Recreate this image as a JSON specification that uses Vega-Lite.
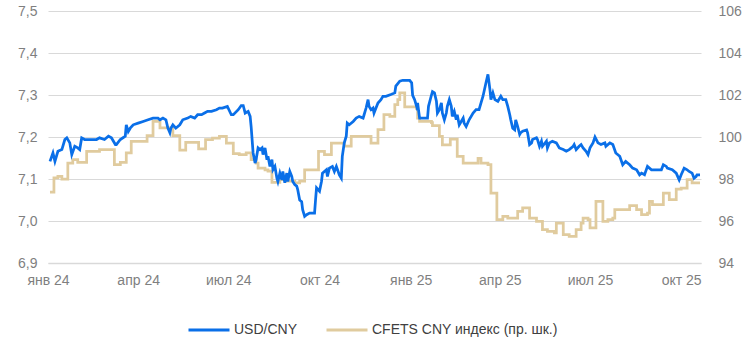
{
  "$schema": "https://vega.github.io/schema/vega-lite/v6.json",
  "width": 653,
  "height": 252,
  "autosize": "none",
  "padding": {"left": 48, "top": 11, "right": 45, "bottom": 92},
  "config": {
    "view": {"stroke": null},
    "font": "Liberation Sans",
    "axis": {"labelFont": "Liberation Sans", "labelFontSize": 14, "labelColor": "#7f7f7f", "ticks": false, "title": null},
    "legend": {"labelFont": "Liberation Sans"}
  },
  "datasets": {
    "usd": [
      {"d":"2024-01-03","v":7.142},{"d":"2024-01-06","v":7.162},{"d":"2024-01-08","v":7.142},{"d":"2024-01-11","v":7.166},{"d":"2024-01-15","v":7.170},{"d":"2024-01-18","v":7.194},{"d":"2024-01-20","v":7.198},{"d":"2024-01-23","v":7.186},{"d":"2024-01-25","v":7.158},{"d":"2024-01-28","v":7.178},{"d":"2024-01-31","v":7.174},
      {"d":"2024-02-02","v":7.170},{"d":"2024-02-04","v":7.198},{"d":"2024-02-07","v":7.194},{"d":"2024-02-12","v":7.194},{"d":"2024-02-19","v":7.194},{"d":"2024-02-22","v":7.198},{"d":"2024-02-27","v":7.194},
      {"d":"2024-03-02","v":7.202},{"d":"2024-03-05","v":7.198},{"d":"2024-03-09","v":7.182},{"d":"2024-03-10","v":7.182},{"d":"2024-03-14","v":7.194},{"d":"2024-03-19","v":7.202},{"d":"2024-03-20","v":7.229},{"d":"2024-03-22","v":7.213},{"d":"2024-03-24","v":7.221},{"d":"2024-03-27","v":7.229},
      {"d":"2024-04-01","v":7.233},{"d":"2024-04-06","v":7.237},{"d":"2024-04-11","v":7.241},{"d":"2024-04-16","v":7.245},{"d":"2024-04-21","v":7.245},{"d":"2024-04-23","v":7.241},{"d":"2024-04-26","v":7.245},{"d":"2024-04-29","v":7.241},
      {"d":"2024-05-01","v":7.221},{"d":"2024-05-03","v":7.210},{"d":"2024-05-04","v":7.221},{"d":"2024-05-06","v":7.229},{"d":"2024-05-09","v":7.221},{"d":"2024-05-13","v":7.229},{"d":"2024-05-16","v":7.241},{"d":"2024-05-21","v":7.245},{"d":"2024-05-24","v":7.249},{"d":"2024-05-28","v":7.245},{"d":"2024-05-31","v":7.253},
      {"d":"2024-06-04","v":7.253},{"d":"2024-06-07","v":7.257},{"d":"2024-06-10","v":7.261},{"d":"2024-06-14","v":7.261},{"d":"2024-06-19","v":7.265},{"d":"2024-06-22","v":7.269},{"d":"2024-06-25","v":7.269},{"d":"2024-06-30","v":7.273},
      {"d":"2024-07-04","v":7.253},{"d":"2024-07-06","v":7.253},{"d":"2024-07-11","v":7.265},{"d":"2024-07-14","v":7.275},{"d":"2024-07-16","v":7.275},{"d":"2024-07-18","v":7.257},{"d":"2024-07-21","v":7.261},{"d":"2024-07-23","v":7.249},{"d":"2024-07-24","v":7.225},{"d":"2024-07-26","v":7.162},{"d":"2024-07-28","v":7.138},{"d":"2024-07-29","v":7.146},{"d":"2024-07-31","v":7.174},
      {"d":"2024-08-02","v":7.170},{"d":"2024-08-04","v":7.174},{"d":"2024-08-05","v":7.158},{"d":"2024-08-07","v":7.174},{"d":"2024-08-09","v":7.146},{"d":"2024-08-10","v":7.154},{"d":"2024-08-12","v":7.130},{"d":"2024-08-14","v":7.146},{"d":"2024-08-15","v":7.122},{"d":"2024-08-17","v":7.130},{"d":"2024-08-19","v":7.102},{"d":"2024-08-20","v":7.094},{"d":"2024-08-22","v":7.114},{"d":"2024-08-24","v":7.098},{"d":"2024-08-25","v":7.118},{"d":"2024-08-27","v":7.091},{"d":"2024-08-29","v":7.114},{"d":"2024-08-30","v":7.094},
      {"d":"2024-09-01","v":7.118},{"d":"2024-09-03","v":7.106},{"d":"2024-09-04","v":7.094},{"d":"2024-09-06","v":7.087},{"d":"2024-09-08","v":7.083},{"d":"2024-09-09","v":7.075},{"d":"2024-09-11","v":7.050},{"d":"2024-09-13","v":7.046},{"d":"2024-09-14","v":7.027},{"d":"2024-09-16","v":7.011},{"d":"2024-09-18","v":7.015},{"d":"2024-09-21","v":7.019},{"d":"2024-09-26","v":7.019},{"d":"2024-09-27","v":7.050},{"d":"2024-09-28","v":7.079},
      {"d":"2024-10-01","v":7.071},{"d":"2024-10-03","v":7.094},{"d":"2024-10-04","v":7.114},{"d":"2024-10-08","v":7.122},{"d":"2024-10-09","v":7.106},{"d":"2024-10-11","v":7.126},{"d":"2024-10-14","v":7.130},{"d":"2024-10-16","v":7.118},{"d":"2024-10-18","v":7.130},{"d":"2024-10-21","v":7.110},{"d":"2024-10-23","v":7.102},{"d":"2024-10-24","v":7.154},{"d":"2024-10-26","v":7.186},{"d":"2024-10-28","v":7.202},{"d":"2024-10-29","v":7.233},{"d":"2024-10-31","v":7.229},
      {"d":"2024-11-04","v":7.237},{"d":"2024-11-07","v":7.245},{"d":"2024-11-10","v":7.249},{"d":"2024-11-14","v":7.245},{"d":"2024-11-15","v":7.253},{"d":"2024-11-17","v":7.269},{"d":"2024-11-19","v":7.289},{"d":"2024-11-20","v":7.273},{"d":"2024-11-22","v":7.265},{"d":"2024-11-24","v":7.269},{"d":"2024-11-25","v":7.257},{"d":"2024-11-27","v":7.269},{"d":"2024-11-29","v":7.281},
      {"d":"2024-12-02","v":7.289},{"d":"2024-12-04","v":7.297},{"d":"2024-12-07","v":7.297},{"d":"2024-12-12","v":7.301},{"d":"2024-12-16","v":7.305},{"d":"2024-12-17","v":7.321},{"d":"2024-12-21","v":7.333},{"d":"2024-12-24","v":7.335},{"d":"2024-12-31","v":7.335},
      {"d":"2025-01-02","v":7.329},{"d":"2025-01-03","v":7.299},{"d":"2025-01-05","v":7.289},{"d":"2025-01-07","v":7.273},{"d":"2025-01-08","v":7.281},{"d":"2025-01-10","v":7.245},{"d":"2025-01-17","v":7.245},{"d":"2025-01-18","v":7.245},{"d":"2025-01-19","v":7.273},{"d":"2025-01-22","v":7.300},{"d":"2025-01-23","v":7.308},{"d":"2025-01-25","v":7.305},{"d":"2025-01-27","v":7.285},{"d":"2025-01-28","v":7.257},{"d":"2025-01-30","v":7.265},
      {"d":"2025-02-01","v":7.281},{"d":"2025-02-02","v":7.257},{"d":"2025-02-04","v":7.241},{"d":"2025-02-06","v":7.257},{"d":"2025-02-07","v":7.273},{"d":"2025-02-09","v":7.289},{"d":"2025-02-11","v":7.273},{"d":"2025-02-12","v":7.249},{"d":"2025-02-14","v":7.261},{"d":"2025-02-16","v":7.241},{"d":"2025-02-17","v":7.253},{"d":"2025-02-19","v":7.229},{"d":"2025-02-21","v":7.237},{"d":"2025-02-23","v":7.245},{"d":"2025-02-24","v":7.233},{"d":"2025-02-26","v":7.225},
      {"d":"2025-03-01","v":7.241},{"d":"2025-03-05","v":7.257},{"d":"2025-03-08","v":7.265},{"d":"2025-03-11","v":7.265},{"d":"2025-03-13","v":7.281},{"d":"2025-03-15","v":7.297},{"d":"2025-03-18","v":7.329},{"d":"2025-03-20","v":7.349},{"d":"2025-03-22","v":7.313},{"d":"2025-03-23","v":7.289},{"d":"2025-03-25","v":7.305},{"d":"2025-03-27","v":7.289},{"d":"2025-03-30","v":7.285},
      {"d":"2025-04-02","v":7.297},{"d":"2025-04-04","v":7.289},{"d":"2025-04-07","v":7.289},{"d":"2025-04-09","v":7.273},{"d":"2025-04-11","v":7.253},{"d":"2025-04-12","v":7.241},{"d":"2025-04-14","v":7.221},{"d":"2025-04-16","v":7.217},{"d":"2025-04-17","v":7.241},{"d":"2025-04-19","v":7.225},{"d":"2025-04-21","v":7.206},{"d":"2025-04-22","v":7.210},{"d":"2025-04-24","v":7.214},{"d":"2025-04-28","v":7.217},{"d":"2025-04-29","v":7.210},
      {"d":"2025-05-01","v":7.182},{"d":"2025-05-03","v":7.186},{"d":"2025-05-04","v":7.194},{"d":"2025-05-08","v":7.198},{"d":"2025-05-09","v":7.194},{"d":"2025-05-11","v":7.178},{"d":"2025-05-13","v":7.190},{"d":"2025-05-14","v":7.178},{"d":"2025-05-18","v":7.190},{"d":"2025-05-19","v":7.174},{"d":"2025-05-21","v":7.186},{"d":"2025-05-24","v":7.190},{"d":"2025-05-28","v":7.186},{"d":"2025-05-31","v":7.174},
      {"d":"2025-06-04","v":7.170},{"d":"2025-06-07","v":7.166},{"d":"2025-06-10","v":7.170},{"d":"2025-06-14","v":7.178},{"d":"2025-06-15","v":7.182},{"d":"2025-06-17","v":7.170},{"d":"2025-06-20","v":7.178},{"d":"2025-06-22","v":7.182},{"d":"2025-06-24","v":7.174},{"d":"2025-06-27","v":7.166},{"d":"2025-06-29","v":7.158},
      {"d":"2025-07-01","v":7.174},{"d":"2025-07-04","v":7.186},{"d":"2025-07-06","v":7.200},{"d":"2025-07-09","v":7.186},{"d":"2025-07-12","v":7.182},{"d":"2025-07-16","v":7.186},{"d":"2025-07-17","v":7.178},{"d":"2025-07-21","v":7.186},{"d":"2025-07-24","v":7.182},{"d":"2025-07-27","v":7.162},{"d":"2025-07-31","v":7.154},
      {"d":"2025-08-03","v":7.134},{"d":"2025-08-06","v":7.142},{"d":"2025-08-10","v":7.134},{"d":"2025-08-13","v":7.126},{"d":"2025-08-17","v":7.122},{"d":"2025-08-20","v":7.110},{"d":"2025-08-22","v":7.114},{"d":"2025-08-25","v":7.110},{"d":"2025-08-28","v":7.130},
      {"d":"2025-09-01","v":7.122},{"d":"2025-09-06","v":7.122},{"d":"2025-09-11","v":7.122},{"d":"2025-09-13","v":7.134},{"d":"2025-09-16","v":7.130},{"d":"2025-09-17","v":7.126},{"d":"2025-09-22","v":7.122},{"d":"2025-09-26","v":7.114},{"d":"2025-09-29","v":7.098},
      {"d":"2025-10-01","v":7.110},{"d":"2025-10-04","v":7.126},{"d":"2025-10-07","v":7.122},{"d":"2025-10-09","v":7.118},{"d":"2025-10-12","v":7.114},{"d":"2025-10-14","v":7.102},{"d":"2025-10-16","v":7.106},{"d":"2025-10-17","v":7.110},{"d":"2025-10-20","v":7.110}
    ],
    "cfets": [
      {"d":"2024-01-03","v":97.37},{"d":"2024-01-07","v":98.05},{"d":"2024-01-11","v":98.13},{"d":"2024-01-15","v":98.0},{"d":"2024-01-21","v":98.76},{"d":"2024-01-26","v":98.92},{"d":"2024-01-31","v":98.79},
      {"d":"2024-02-09","v":99.32},{"d":"2024-02-22","v":99.40},{"d":"2024-03-08","v":98.68},{"d":"2024-03-14","v":98.79},{"d":"2024-03-20","v":99.24},{"d":"2024-03-25","v":99.79},
      {"d":"2024-04-10","v":100.06},{"d":"2024-04-16","v":100.75},{"d":"2024-04-23","v":100.43},{"d":"2024-05-06","v":100.06},{"d":"2024-05-13","v":99.37},{"d":"2024-05-19","v":99.75},
      {"d":"2024-06-01","v":99.43},{"d":"2024-06-08","v":99.87},{"d":"2024-06-15","v":99.95},{"d":"2024-06-22","v":100.03},{"d":"2024-06-29","v":99.71},
      {"d":"2024-07-06","v":99.21},{"d":"2024-07-12","v":99.16},{"d":"2024-07-19","v":99.24},{"d":"2024-07-24","v":98.92},{"d":"2024-07-29","v":98.76},{"d":"2024-07-31","v":98.52},
      {"d":"2024-08-07","v":98.44},{"d":"2024-08-10","v":98.37},{"d":"2024-08-14","v":97.84},{"d":"2024-08-22","v":97.97},{"d":"2024-08-29","v":97.90},
      {"d":"2024-09-06","v":97.81},{"d":"2024-09-11","v":97.90},{"d":"2024-09-16","v":98.44},{"d":"2024-09-30","v":99.32},
      {"d":"2024-10-06","v":99.16},{"d":"2024-10-13","v":99.71},{"d":"2024-10-26","v":99.56},{"d":"2024-11-02","v":100.03},{"d":"2024-11-22","v":99.71},{"d":"2024-11-29","v":100.35},
      {"d":"2024-12-05","v":101.06},{"d":"2024-12-11","v":100.98},{"d":"2024-12-16","v":101.54},{"d":"2024-12-19","v":101.78},{"d":"2024-12-21","v":102.10},{"d":"2024-12-26","v":101.43},
      {"d":"2025-01-07","v":101.35},{"d":"2025-01-08","v":100.90},{"d":"2025-01-10","v":100.75},{"d":"2025-01-22","v":100.68},{"d":"2025-01-23","v":100.54},{"d":"2025-01-30","v":100.03},
      {"d":"2025-02-02","v":99.63},{"d":"2025-02-10","v":99.90},{"d":"2025-02-17","v":99.08},{"d":"2025-02-23","v":98.76},
      {"d":"2025-03-10","v":98.98},{"d":"2025-03-13","v":98.76},{"d":"2025-03-20","v":98.68},{"d":"2025-03-23","v":97.33},{"d":"2025-03-29","v":96.06},
      {"d":"2025-04-04","v":96.22},{"d":"2025-04-09","v":96.14},{"d":"2025-04-19","v":96.46},{"d":"2025-04-24","v":96.62},
      {"d":"2025-05-01","v":96.14},{"d":"2025-05-08","v":95.98},{"d":"2025-05-14","v":95.59},{"d":"2025-05-19","v":95.51},{"d":"2025-05-26","v":95.43},{"d":"2025-05-28","v":95.90},
      {"d":"2025-06-04","v":95.35},{"d":"2025-06-10","v":95.27},{"d":"2025-06-17","v":95.59},{"d":"2025-06-22","v":95.90},{"d":"2025-06-24","v":96.14},{"d":"2025-06-29","v":96.06},
      {"d":"2025-07-01","v":95.67},{"d":"2025-07-07","v":96.94},{"d":"2025-07-14","v":95.98},{"d":"2025-07-19","v":96.06},{"d":"2025-07-24","v":96.14},{"d":"2025-07-26","v":96.54},
      {"d":"2025-08-10","v":96.73},{"d":"2025-08-17","v":96.54},{"d":"2025-08-22","v":96.30},{"d":"2025-08-28","v":96.38},{"d":"2025-08-30","v":96.94},
      {"d":"2025-09-02","v":96.78},{"d":"2025-09-13","v":97.33},{"d":"2025-09-19","v":97.02},{"d":"2025-09-26","v":97.52},
      {"d":"2025-10-01","v":97.57},{"d":"2025-10-07","v":97.97},{"d":"2025-10-12","v":97.81},{"d":"2025-10-20","v":97.81}
    ]
  },
  "encoding": {
    "x": {
      "field": "d",
      "type": "temporal",
      "scale": {"domain": [{"year": 2024, "month": 1, "date": 1}, {"year": 2025, "month": 10, "date": 21}]},
      "axis": {
        "values": [
          {"year": 2024, "month": 1, "date": 1}, {"year": 2024, "month": 4, "date": 1}, {"year": 2024, "month": 7, "date": 1}, {"year": 2024, "month": 10, "date": 1},
          {"year": 2025, "month": 1, "date": 1}, {"year": 2025, "month": 4, "date": 1}, {"year": 2025, "month": 7, "date": 1}, {"year": 2025, "month": 10, "date": 1}
        ],
        "labelExpr": "['янв','фев','мар','апр','май','июн','июл','авг','сен','окт','ноя','дек'][month(datum.value)] + ' ' + timeFormat(datum.value, '%y')",
        "grid": false,
        "domain": true,
        "domainColor": "#d9d9d9",
        "domainWidth": 1.5,
        "labelPadding": 10,
        "labelFlush": false,
        "labelOverlap": false
      }
    }
  },
  "layer": [
    {
      "data": {"name": "cfets"},
      "mark": {"type": "line", "interpolate": "step-after", "strokeWidth": 2.75},
      "encoding": {
        "y": {
          "field": "v",
          "type": "quantitative",
          "scale": {"domain": [94, 106], "zero": false, "nice": false},
          "axis": {"orient": "right", "values": [94, 96, 98, 100, 102, 104, 106], "grid": false, "domain": false, "labelPadding": 17}
        },
        "color": {"datum": "CFETS CNY индекс (пр. шк.)", "type": "nominal"}
      }
    },
    {
      "data": {"name": "usd"},
      "mark": {"type": "line", "strokeWidth": 2.75},
      "encoding": {
        "y": {
          "field": "v",
          "type": "quantitative",
          "scale": {"domain": [6.9, 7.5], "zero": false, "nice": false},
          "axis": {
            "orient": "left",
            "values": [6.9, 7.0, 7.1, 7.2, 7.3, 7.4, 7.5],
            "labelExpr": "replace(format(datum.value, '.1f'), '.', ',')",
            "grid": true,
            "gridColor": "#d9d9d9",
            "domain": false,
            "labelPadding": 11
          }
        },
        "color": {
          "datum": "USD/CNY",
          "type": "nominal",
          "scale": {"domain": ["USD/CNY", "CFETS CNY индекс (пр. шк.)"], "range": ["#0A6FE8", "#E0CB9E"]},
          "legend": {
            "orient": "none",
            "legendX": 139,
            "legendY": 297,
            "direction": "horizontal",
            "title": null,
            "symbolType": "stroke",
            "symbolSize": 1681,
            "symbolStrokeWidth": 3,
            "labelFontSize": 14,
            "labelLimit": 0,
            "labelColor": "#404040",
            "labelOffset": 3,
            "columnPadding": 22,
            "padding": 0
          }
        }
      }
    }
  ],
  "resolve": {"scale": {"y": "independent"}}
}
